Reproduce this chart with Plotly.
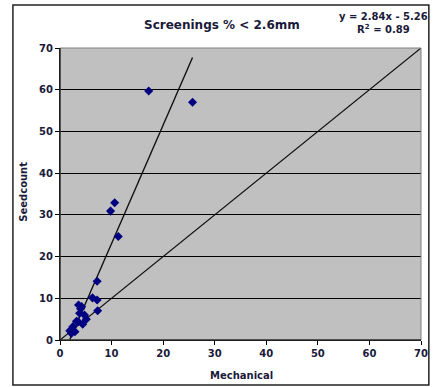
import plotly.graph_objects as go

# Data
mechanical = [1.9, 2.2, 2.5, 2.9, 3.2, 3.5, 3.8, 4.0, 4.4, 4.75, 5.1, 3.6, 4.2,
              6.3, 7.2, 7.3, 7.2, 9.8, 10.6, 11.3, 17.2, 25.7]
seedcount = [2.2, 1.6, 3.2, 2.0, 4.5, 4.4, 6.4, 7.5, 3.8, 6.0, 5.0, 8.4, 8.0,
             10.1, 9.6, 7.0, 14.1, 30.9, 32.9, 24.8, 59.7, 57.0]
slope = 2.84
intercept = -5.26
r_squared = 0.89
one_to_one = [0, 70]
axis_ticks = [0, 10, 20, 30, 40, 50, 60, 70]
axis_ticktext = ["<b>%d</b>" % t for t in axis_ticks]

title_text = "Screenings % < 2.6mm"
x_title = "Mechanical"
y_title = "Seedcount"

font_family = "DejaVu Sans, Verdana, sans-serif"
text_color = "#1a1a3a"

xmin, xmax = min(mechanical), max(mechanical)
trend_x = [xmin, xmax]
trend_y = [slope * v + intercept for v in trend_x]

fig = go.Figure()
fig.add_trace(go.Scatter(x=one_to_one, y=one_to_one, mode="lines",
                         line=dict(color="#111111", width=1.2), showlegend=False,
                         hoverinfo="skip"))
fig.add_trace(go.Scatter(x=trend_x, y=trend_y, mode="lines",
                         line=dict(color="#111111", width=1.4), showlegend=False,
                         hoverinfo="skip"))
fig.add_trace(go.Scatter(x=mechanical, y=seedcount, mode="markers",
                         marker=dict(symbol="diamond", size=7, color="#000080",
                                     line=dict(width=0)),
                         showlegend=False))

fig.update_layout(
    width=438, height=387,
    margin=dict(l=60, r=10, t=48, b=47),
    paper_bgcolor="white",
    plot_bgcolor="#C0C0C0",
    font=dict(family=font_family, size=10, color=text_color),
)
fig.update_xaxes(range=[0, 70], tickvals=axis_ticks, ticktext=axis_ticktext,
                 showgrid=False, zeroline=False,
                 showline=True, linecolor="black", linewidth=1, mirror=False,
                 ticks="outside", ticklen=4, tickcolor="black",
                 tickfont=dict(family=font_family, size=10, color=text_color))
fig.update_yaxes(range=[0, 70], tickvals=axis_ticks, ticktext=axis_ticktext,
                 showgrid=True, gridcolor="black",
                 gridwidth=1, zeroline=False,
                 showline=True, linecolor="black", linewidth=1,
                 ticks="outside", ticklen=4, tickcolor="black",
                 tickfont=dict(family=font_family, size=10, color=text_color))

# plot area border (top/right in gray)
fig.add_shape(type="rect", xref="paper", yref="paper", x0=0, y0=0, x1=1, y1=1,
              line=dict(color="#808080", width=1), layer="above")
fig.add_shape(type="line", xref="paper", yref="paper", x0=0, y0=0, x1=0, y1=1,
              line=dict(color="black", width=1), layer="above")
fig.add_shape(type="line", xref="paper", yref="paper", x0=0, y0=0, x1=1, y1=0,
              line=dict(color="black", width=1), layer="above")
# chart outer border
fig.add_shape(type="rect", xref="paper", yref="paper",
              x0=(12 - 60) / 368, x1=(436 - 60) / 368,
              y0=(340 - 385) / 292, y1=(340 - 5) / 292,
              line=dict(color="#222222", width=1.5))

fig.add_annotation(text="<b>" + title_text + "</b>", xref="paper", yref="paper",
                   x=(225 - 60) / 368, y=(340 - 25) / 292, showarrow=False,
                   xanchor="center", yanchor="middle",
                   font=dict(family=font_family, size=12, color=text_color))
fig.add_annotation(text=f"<b>y = {slope:.2f}x - {abs(intercept):.2f}</b><br><b>R<sup>2</sup> = {r_squared:.2f}</b>",
                   xref="paper", yref="paper",
                   x=(390 - 60) / 368, y=(340 - 23) / 292, showarrow=False,
                   xanchor="center", yanchor="middle", align="center",
                   font=dict(family=font_family, size=10, color=text_color))
fig.add_annotation(text="<b>" + y_title + "</b>", xref="paper", yref="paper",
                   x=(22 - 60) / 368, y=(340 - 192) / 292, showarrow=False,
                   textangle=-90, xanchor="center", yanchor="middle",
                   font=dict(family=font_family, size=10, color=text_color))
fig.add_annotation(text="<b>" + x_title + "</b>", xref="paper", yref="paper",
                   x=(245 - 60) / 368, y=(340 - 375) / 292, showarrow=False,
                   xanchor="center", yanchor="middle",
                   font=dict(family=font_family, size=10, color=text_color))

fig.write_html("out.html")
